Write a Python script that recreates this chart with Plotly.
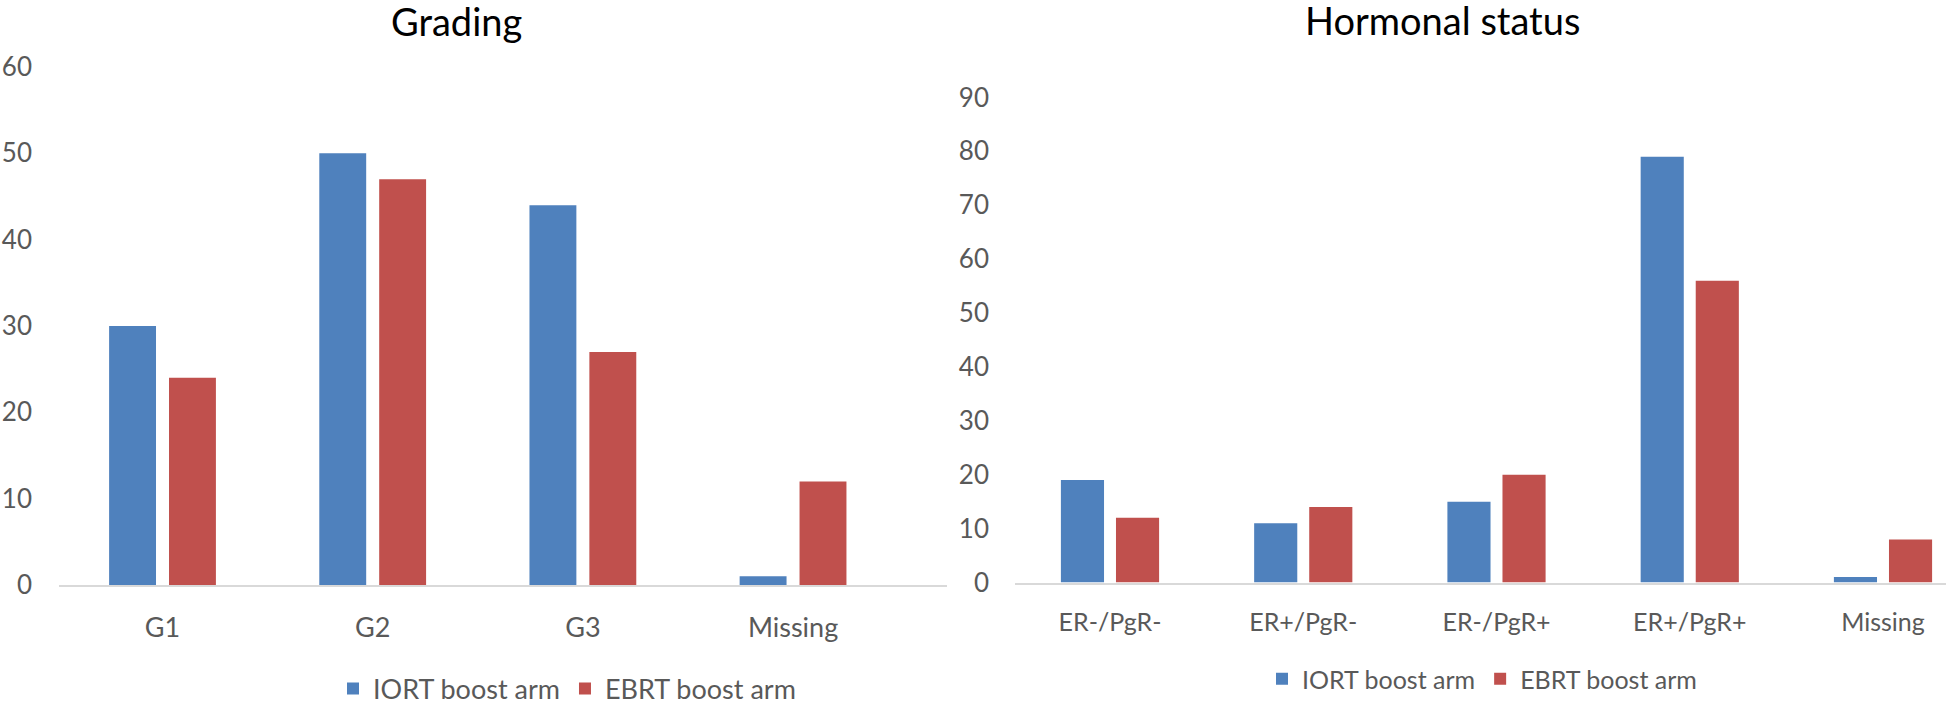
import plotly.graph_objects as go

# ---- data ----
grading_categories = ["G1", "G2", "G3", "Missing"]
grading_iort = [30, 50, 44, 1]
grading_ebrt = [24, 47, 27, 12]

hormonal_categories = ["ER-/PgR-", "ER+/PgR-", "ER-/PgR+", "ER+/PgR+", "Missing"]
hormonal_iort = [19, 11, 15, 79, 1]
hormonal_ebrt = [12, 14, 20, 56, 8]

series_names = ["IORT boost arm", "EBRT boost arm"]
left_yticks = [0, 10, 20, 30, 40, 50, 60]
right_yticks = [0, 10, 20, 30, 40, 50, 60, 70, 80, 90]

BLUE = "#4F81BD"
RED = "#C0504D"
GRAY_TXT = "#595959"
FONT = "Lato"

W, H = 1946, 701

fig = go.Figure()
fig.add_trace(go.Bar(x=grading_categories, y=grading_iort, name=series_names[0],
                     marker=dict(color=BLUE, line=dict(width=0)), xaxis="x", yaxis="y", legend="legend"))
fig.add_trace(go.Bar(x=grading_categories, y=grading_ebrt, name=series_names[1],
                     marker=dict(color=RED, line=dict(width=0)), xaxis="x", yaxis="y", legend="legend"))
fig.add_trace(go.Bar(x=hormonal_categories, y=hormonal_iort, name=series_names[0],
                     marker=dict(color=BLUE, line=dict(width=0)), xaxis="x2", yaxis="y2", legend="legend2"))
fig.add_trace(go.Bar(x=hormonal_categories, y=hormonal_ebrt, name=series_names[1],
                     marker=dict(color=RED, line=dict(width=0)), xaxis="x2", yaxis="y2", legend="legend2"))

def px_x(p):
    return p / W

def px_y(p):
    return (H - p) / H

fig.update_layout(
    width=W, height=H,
    margin=dict(l=0, r=0, t=0, b=0, autoexpand=False),
    paper_bgcolor="white", plot_bgcolor="white",
    font=dict(family=FONT, color=GRAY_TXT),
    barmode="group", bargap=0.43, bargroupgap=0.217,
    xaxis=dict(domain=[px_x(59), px_x(947)], range=[-0.4925, 3.7325], type="category",
               showline=True, linecolor="#D9D9D9", linewidth=2, showgrid=False, zeroline=False,
               ticks="", tickfont=dict(size=27, color=GRAY_TXT), ticklabelstandoff=18,
               anchor="y", fixedrange=True, automargin=False),
    yaxis=dict(domain=[px_y(585), px_y(67)], range=[0, 60], tickvals=left_yticks,
               showline=False, showgrid=False, zeroline=False, ticks="",
               tickfont=dict(size=26, color=GRAY_TXT), ticklabelstandoff=26,
               anchor="x", fixedrange=True, automargin=False),
    xaxis2=dict(domain=[px_x(1015), 1.0], range=[-0.4916, 4.326], type="category",
                showline=True, linecolor="#D9D9D9", linewidth=2, showgrid=False, zeroline=False,
                ticks="", tickfont=dict(size=25, color=GRAY_TXT), ticklabelstandoff=16,
                anchor="y2", fixedrange=True, automargin=False),
    yaxis2=dict(domain=[px_y(582.5), px_y(97.5)], range=[0, 90], tickvals=right_yticks,
                showline=False, showgrid=False, zeroline=False, ticks="",
                tickfont=dict(size=26, color=GRAY_TXT), ticklabelstandoff=25,
                anchor="x2", fixedrange=True, automargin=False),
    legend=dict(orientation="h", x=px_x(567), y=px_y(689), xanchor="center", yanchor="middle",
                font=dict(size=27, color=GRAY_TXT), bgcolor="rgba(0,0,0,0)"),
    legend2=dict(orientation="h", x=px_x(1482), y=px_y(679), xanchor="center", yanchor="middle",
                 font=dict(size=25, color=GRAY_TXT), bgcolor="rgba(0,0,0,0)"),
    annotations=[
        dict(text="Grading", x=px_x(456), y=px_y(21), xref="paper", yref="paper",
             xanchor="center", yanchor="middle", showarrow=False,
             font=dict(size=38, color="#000000", family=FONT)),
        dict(text="Hormonal status", x=px_x(1442), y=px_y(20), xref="paper", yref="paper",
             xanchor="center", yanchor="middle", showarrow=False,
             font=dict(size=38, color="#000000", family=FONT)),
    ],
    showlegend=True,
)

fig.write_html(
    "out.html",
    config={"displayModeBar": False},
    post_script="document.body.style.margin='0';document.body.style.overflow='hidden';",
)
